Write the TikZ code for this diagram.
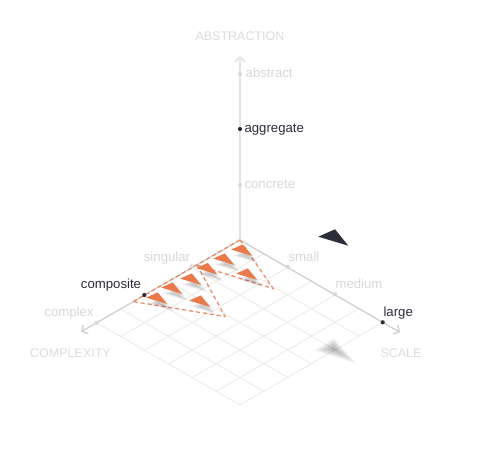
\documentclass[tikz,border=0pt]{standalone}
\usepackage{fontspec}
\setmainfont{Liberation Sans}
\usetikzlibrary{calc,arrows.meta}
\definecolor{navy}{HTML}{2B2D3B}
\definecolor{faint}{HTML}{D8D8D8}
\definecolor{titlec}{HTML}{DEDCDC}
\definecolor{gridc}{HTML}{EEEAE5}
\definecolor{axisc}{HTML}{D2D0CE}
\definecolor{vaxisc}{HTML}{E3E3E3}
\definecolor{orng}{HTML}{E97A4C}
\definecolor{dashc}{HTML}{E9875E}
\tikzset{
  lbl/.style={font=\fontsize{13.2}{15}\selectfont, inner sep=0pt, anchor=base},
  faintlbl/.style={lbl, text=faint},
  darklbl/.style={lbl, text=navy},
  title/.style={font=\fontsize{12.5}{14}\selectfont, inner sep=0pt, anchor=base, text=titlec},
  gridline/.style={draw=gridc, line width=0.8pt},
  axisline/.style={draw=axisc, line width=1.3pt, -{Straight Barb[length=4.5pt,width=10pt]}},
  vaxis/.style={draw=vaxisc, line width=2pt, -{Straight Barb[length=4.5pt,width=10pt]}},
  fdot/.style={circle, fill=faint, inner sep=0pt, minimum size=4.2pt},
  ddot/.style={circle, fill=navy, inner sep=0pt, minimum size=4.2pt},
  dashline/.style={draw=dashc, line width=1.2pt, dash pattern=on 4pt off 3pt},
  otri/.pic={
    \foreach \s in {1.25,1.1,0.95,0.8,0.65,0.5}{
      \fill[black,opacity=0.035] ({4-10.8*\s},{6-0.4*\s}) -- ({4+0.8*\s},{6-5.6*\s}) -- ({4+10.3*\s},{6+6*\s}) -- cycle;
    }
    \fill[orng] (-10.8,-0.4) -- (0.8,-5.6) -- (10.3,6) -- cycle;
  }
}
\begin{document}
\begin{tikzpicture}[x=1pt,y=-1pt]
\fill[white] (0,0) rectangle (480,458);
\useasboundingbox (0,0) rectangle (480,458);
% frame points
\coordinate (O) at (240,240);
\coordinate (L) at (96.7,322.7);
\coordinate (R) at (382.7,322.3);
\coordinate (B) at (240,405);
\coordinate (Ltip) at (81,331.8);
\coordinate (Rtip) at (400,332.3);
\coordinate (Vtip) at (240,56);
% grid
\foreach \i in {1,...,6}{
  \draw[gridline] ($(O)!\i/6!(R)$) -- ($(L)!\i/6!(B)$);
  \draw[gridline] ($(O)!\i/6!(L)$) -- ($(R)!\i/6!(B)$);
}
% axes
\draw[vaxis] (O) -- (Vtip);
\draw[axisline] (O) -- (Ltip);
\draw[axisline] (O) -- (Rtip);
% dashed outlines
\coordinate (PA) at (197,265);
\coordinate (RA) at (273,288.5);
\coordinate (RB) at (225,316.5);
\coordinate (LB) at (133.3,301.6);
\draw[dashline] (O) -- (LB);
\draw[dashline] (O) -- (RA) -- (PA);
\draw[dashline] (PA) -- (RB) -- (LB);
% floor shadow of the dark triangle
\coordinate (C) at (334,349);
\foreach \s in {1.35,1.2,1.05,0.9,0.75,0.6,0.45,0.3}{
  \fill[black,opacity=0.035] ($(C)+(\s*-15,\s*1)$) -- ($(C)+(\s*0,\s*-8)$) -- ($(C)+(\s*17,\s*11)$) -- cycle;
}
% orange triangles
\foreach \x/\y in {242/250, 224/259, 207/268.5, 191/279, 172/288, 157/298, 247/274, 200/301}{
  \pic at (\x,\y) {otri};
}
% dark triangle
\fill[navy] (318.3,236.7) -- (335,229.3) -- (348.3,245.7) -- cycle;
% dots
\node[fdot] (abstractdot) at (240,74) {};
\node[ddot] (aggregatedot) at (240,129) {};
\node[fdot] (concretedot) at (240,185) {};
\node[fdot] (singulardot) at (191.7,266.3) {};
\node[ddot] (compositedot) at (144.3,295) {};
\node[fdot] (complexdot) at (96.7,322.7) {};
\node[fdot] (smalldot) at (287.7,266.7) {};
\node[fdot] (mediumdot) at (335,294.3) {};
\node[ddot] (largedot) at (382.7,322.3) {};
% labels
\node[title] (abstraction) at (240,40) {ABSTRACTION};
\node[title] (complexity) at (70.5,357.5) {COMPLEXITY};
\node[title] (scale) at (401,357.5) {SCALE};
\node[faintlbl, anchor=base west] (abstract) at (245.5,77) {abstract};
\node[darklbl, anchor=base west] (aggregate) at (244.3,132.5) {aggregate};
\node[faintlbl, anchor=base west] (concrete) at (244.3,188) {concrete};
\node[faintlbl] (singular) at (167,261.5) {singular};
\node[faintlbl] (small) at (304,261.5) {small};
\node[faintlbl] (medium) at (359,288.5) {medium};
\node[darklbl, anchor=base west] (large) at (383.3,316.5) {large};
\node[darklbl] (composite) at (111,288.5) {composite};
\node[faintlbl] (complex) at (69,316.5) {complex};
\end{tikzpicture}
\end{document}
